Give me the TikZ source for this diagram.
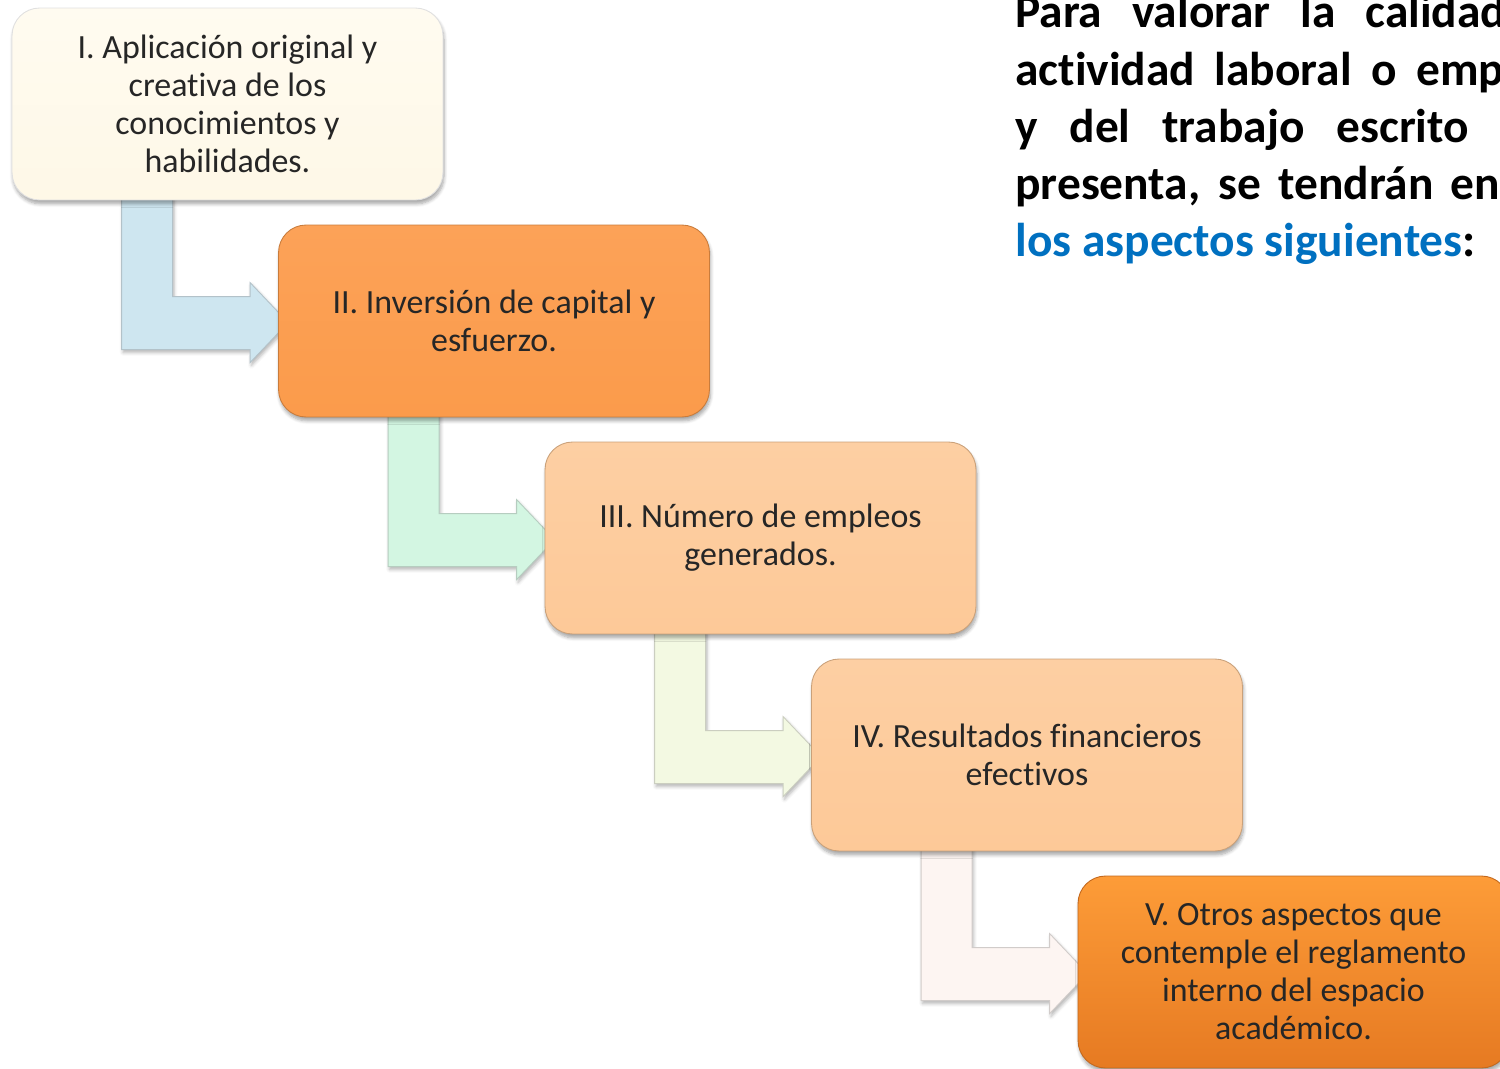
\documentclass[tikz,border=0pt]{standalone}
\usepackage{fontspec}
\setmainfont{Carlito}[Ligatures={NoCommon}]
\usetikzlibrary{calc,shadows.blur}

\definecolor{txtgray}{HTML}{262626}
\definecolor{cream}{HTML}{FEF8E7}
\definecolor{creamtop}{HTML}{FFFBF0}
\definecolor{orangemid}{HTML}{FB9B4B}
\definecolor{orangemidtop}{HTML}{FCA258}
\definecolor{peach}{HTML}{FDC998}
\definecolor{peachtop}{HTML}{FDCFA3}
\definecolor{orangetop}{HTML}{FD9C38}
\definecolor{orangebot}{HTML}{E67A22}
\definecolor{arrblue}{HTML}{CEE6F0}
\definecolor{arrgreen}{HTML}{D3F6E2}
\definecolor{arrlime}{HTML}{F3F9E2}
\definecolor{arrrose}{HTML}{FDF5F2}
\definecolor{introblue}{HTML}{0070C0}

\pgfdeclarelayer{background}
\pgfsetlayers{background,main}

\tikzset{
  aspbox/.style={rectangle, rounded corners=0.55cm, minimum width=8.62cm,
    minimum height=3.84cm, align=center, text=txtgray, inner sep=2pt,
    font=\fontsize{19.3}{21.6}\selectfont, line width=0.5pt,
    blur shadow={shadow xshift=0.6pt, shadow yshift=-2.2pt,
      shadow blur steps=6, shadow opacity=35}},
  steparrow/.style={line width=0.5pt, line join=miter,
    blur shadow={shadow xshift=0.8pt, shadow yshift=-1.6pt,
      shadow blur steps=4, shadow opacity=30}},
}

\begin{document}
\begin{tikzpicture}[x=0.02cm, y=-0.02cm]
  \useasboundingbox (0,0) rectangle (1500,1068);

  % the five aspects, each one step down and to the right
  \node[aspbox, top color=creamtop, bottom color=cream, draw=black!12] (asp1) at (227.5,104)
    {I. Aplicación original y\\creativa de los\\conocimientos y\\habilidades.};
  \node[aspbox, top color=orangemidtop, bottom color=orangemid, draw=orangemid!80!black] (asp2) at (494,321)
    {II. Inversión de capital y\\esfuerzo.};
  \node[aspbox, top color=peachtop, bottom color=peach, draw=peach!80!black] (asp3) at (760.5,538)
    {III. Número de empleos\\generados.};
  \node[aspbox, top color=peachtop, bottom color=peach, draw=peach!80!black] (asp4) at (1027,755)
    {IV. Resultados financieros\\efectivos};
  \node[aspbox, top color=orangetop, bottom color=orangebot, draw=orangebot!85!black] (asp5) at (1293.5,972)
    {V. Otros aspectos que\\contemple el reglamento\\interno del espacio\\académico.};

  % bent arrows behind the boxes
  \begin{pgfonlayer}{background}
    \foreach \a/\b/\c in {asp1/asp2/arrblue, asp2/asp3/arrgreen, asp3/asp4/arrlime, asp4/asp5/arrrose}
      \filldraw[steparrow, fill=\c, draw=\c!65!gray]
        ($(\a.south west)+(110,-4)$) |- ($(\b.north west)+(-28,125)$)
        -- ++(0,13) -- ($(\b.north west)+(10,98)$)
        -- ($(\b.north west)+(-28,58)$) -- ++(0,14)
        -| ($(\a.south west)+(161,-4)$) -- cycle;
  \end{pgfonlayer}

  % heading text, cut by the right edge
  \node[anchor=base west, inner sep=0pt, text width=12.7cm, align=justify,
    font=\fontsize{27}{32.5}\selectfont\bfseries] (intro) at (1015,28)
    {Para valorar la calidad de la\linebreak actividad laboral o empresarial\linebreak
     y del trabajo escrito que se\linebreak presenta, se tendrán en cuenta\linebreak
     \textcolor{introblue}{los aspectos siguientes}:};
\end{tikzpicture}
\end{document}
